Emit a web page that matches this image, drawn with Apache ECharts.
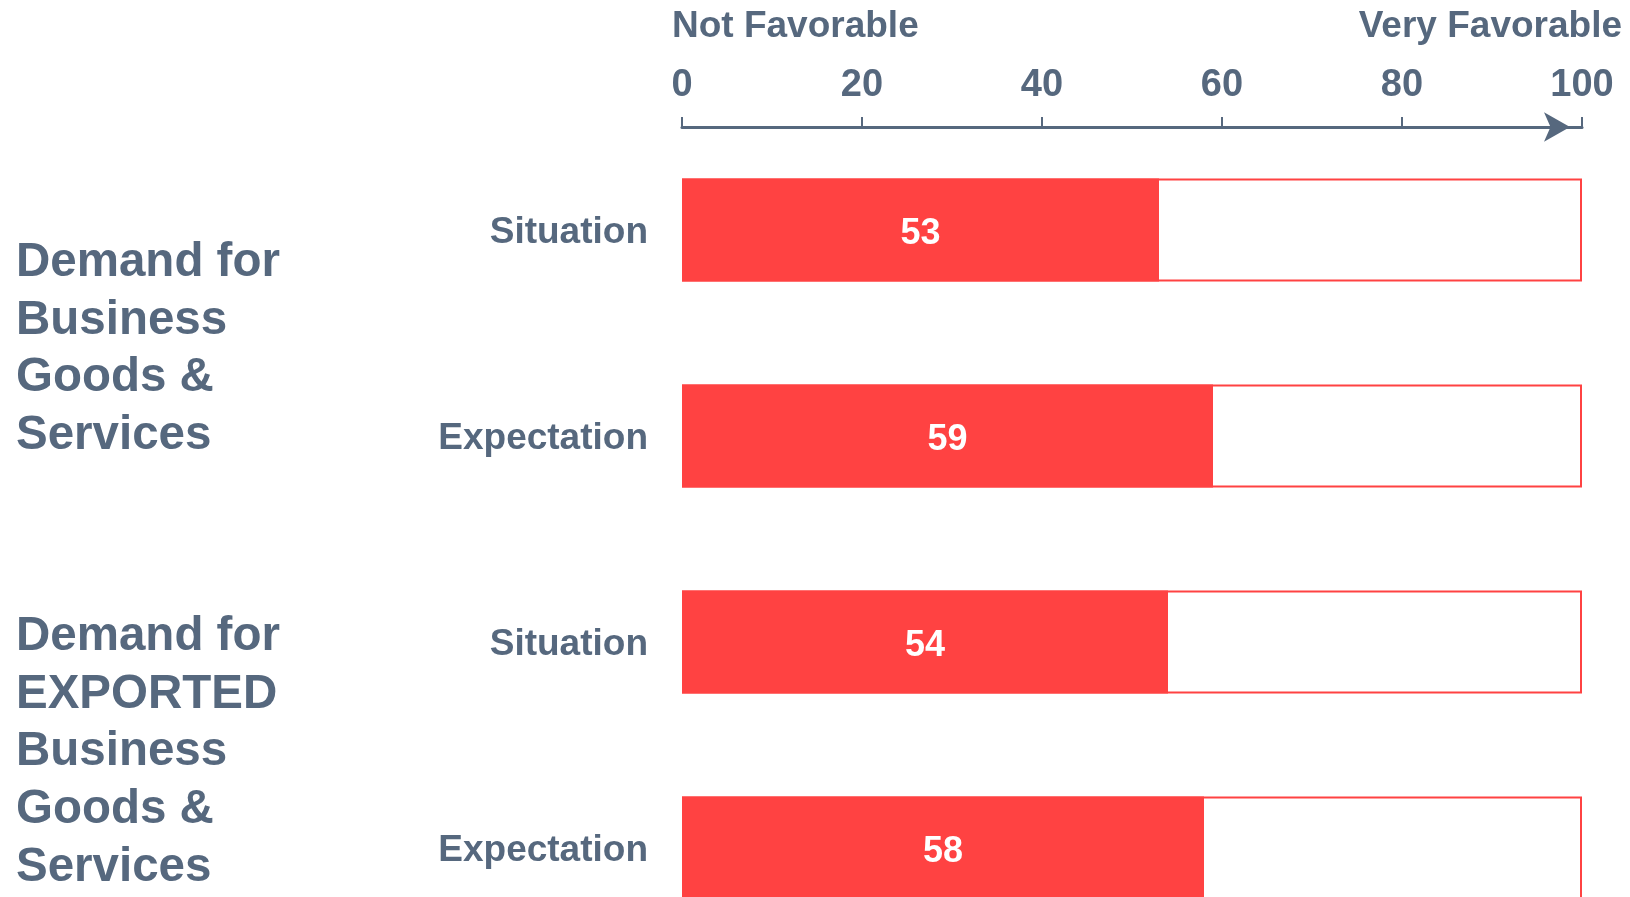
<!DOCTYPE html>
<html>
<head>
<meta charset="utf-8">
<script src="https://cdn.jsdelivr.net/npm/echarts@6/dist/echarts.min.js"></script>
<style>
html,body{margin:0;padding:0;background:#fff;}
#main{width:1630px;height:897px;}
</style>
</head>
<body>
<div id="main"></div>
<script>
const categories = ['Situation', 'Expectation', 'Situation', 'Expectation'];
const values = [53, 59, 54, 58];
const fullScale = [100, 100, 100, 100];
const groupLabels = ['Demand for\nBusiness\nGoods &\nServices', 'Demand for\nEXPORTED\nBusiness\nGoods &\nServices'];
const scaleEnds = ['Not Favorable', 'Very Favorable'];

const SLATE = '#56687e';
const RED = '#ff4242';
const FONT = '"Liberation Sans", Arial, sans-serif';

const chart = echarts.init(document.getElementById('main'));
chart.setOption({
  backgroundColor: '#ffffff',
  animation: false,
  grid: { left: 682, right: 48, top: 127, height: 824, outerBoundsMode: 'none', containLabel: false },
  xAxis: {
    type: 'value', position: 'top', min: 0, max: 100, interval: 20,
    axisLine: { show: true, symbol: ['none', 'arrow'], symbolSize: [22, 26], symbolOffset: [0, -12],
      lineStyle: { color: SLATE, width: 3 } },
    axisTick: { show: true, length: 10, lineStyle: { color: SLATE, width: 2 } },
    axisLabel: { color: SLATE, fontFamily: FONT, fontWeight: 'bold', fontSize: 38, margin: 22 },
    splitLine: { show: false }
  },
  yAxis: {
    type: 'category', inverse: true,
    data: categories.map((c, i) => String(i)),
    axisLine: { show: false }, axisTick: { show: false },
    axisLabel: { color: SLATE, fontFamily: FONT, fontWeight: 'bold', fontSize: 37, margin: 34,
      formatter: v => '{c|' + categories[+v] + '}',
      rich: { c: { color: SLATE, fontFamily: FONT, fontWeight: 'bold', fontSize: 37, padding: [6, 0, 0, 0] } } }
  },
  series: [
    {
      type: 'bar', data: fullScale, barWidth: '50%', barGap: '-100%', silent: true,
      itemStyle: { color: '#ffffff', borderColor: RED, borderWidth: 2 }, z: 1
    },
    {
      type: 'bar', data: values, barWidth: '50%', barGap: '-100%',
      itemStyle: { color: RED }, z: 2,
      label: { show: true, position: 'inside', offset: [0, 4], color: '#ffffff', fontFamily: FONT, fontWeight: 'bold', fontSize: 36 }
    }
  ],
  graphic: [
    { type: 'text', left: 16, top: 234, style: { text: groupLabels[0], fill: SLATE, font: 'bold 47.5px ' + FONT, lineHeight: 57.7 } },
    { type: 'text', left: 16, top: 608, style: { text: groupLabels[1], fill: SLATE, font: 'bold 47.5px ' + FONT, lineHeight: 57.7 } },
    { type: 'text', left: 672, top: 8, style: { text: scaleEnds[0], fill: SLATE, font: 'bold 37px ' + FONT } },
    { type: 'text', right: 8, top: 8, style: { text: scaleEnds[1], fill: SLATE, font: 'bold 37px ' + FONT } }
  ]
});
</script>
</body>
</html>
